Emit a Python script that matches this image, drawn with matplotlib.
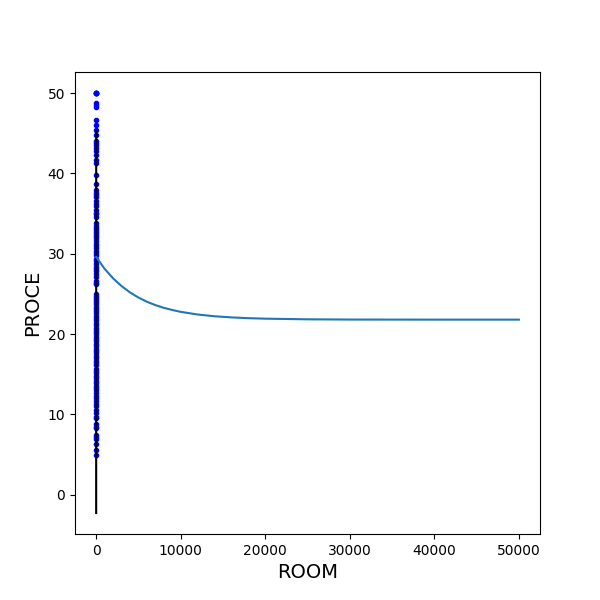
import matplotlib
matplotlib.use('Agg')
import matplotlib.pyplot as plt

# house prices vs average number of rooms
prices = [50.0, 50.0, 50.0, 50.0, 50.0, 48.8, 48.5, 48.3, 46.7, 46.0,
          45.4, 44.8, 44.0, 43.8, 43.5, 43.1, 42.8, 42.3, 41.7, 41.3,
          39.8, 38.7, 37.9, 37.6, 37.3, 37.0, 36.5, 36.2, 36.0, 35.4,
          35.1, 34.9, 34.6, 33.8, 33.4, 33.2, 33.0, 32.7, 32.5, 32.2,
          32.0, 31.6, 31.2, 31.0, 30.7, 30.3, 30.1, 29.8, 29.4, 29.1,
          28.7, 28.4, 28.1, 27.9, 27.5, 27.1, 26.6, 26.4, 26.2, 25.0,
          24.8, 24.5, 24.2, 24.0, 23.7, 23.4, 23.1, 22.9, 22.6, 22.3,
          22.0, 21.7, 21.4, 21.1, 20.8, 20.5, 20.2, 20.0, 19.7, 19.4,
          19.1, 18.8, 18.5, 18.2, 17.9, 17.6, 17.3, 17.0, 16.7, 16.4,
          16.1, 15.7, 15.4, 15.1, 14.8, 14.5, 14.2, 13.9, 13.6, 13.3,
          13.0, 12.7, 12.3, 12.0, 11.7, 11.3, 11.0, 10.5, 10.2, 9.7,
          9.5, 8.8, 8.5, 8.3, 7.5, 7.2, 7.0, 6.3, 5.6, 5.0]
rooms = [8.725, 7.929, 6.683, 5.875, 7.016, 8.398, 8.247, 8.704, 8.375, 7.831,
         8.069, 7.820, 7.765, 7.147, 7.520, 7.645, 7.470, 7.185, 7.287, 7.361,
         7.333, 7.610, 7.853, 7.686, 7.178, 7.163, 7.420, 6.968, 7.079, 7.236,
         6.998, 6.939, 6.758, 6.826, 7.107, 6.849, 6.728, 6.595, 6.625, 7.014,
         6.982, 6.674, 6.563, 6.487, 6.421, 6.762, 6.575, 6.454, 6.727, 6.229,
         6.781, 6.405, 6.417, 6.122, 3.561, 6.472, 6.631, 6.140, 6.312, 6.096,
         6.575, 6.302, 6.065, 6.012, 6.162, 6.009, 5.966, 6.129, 6.229, 5.965,
         8.780, 5.856, 6.004, 6.096, 5.961, 6.169, 5.813, 5.727, 5.952, 6.101,
         5.888, 5.950, 5.813, 6.016, 5.783, 5.927, 5.786, 5.599, 5.536, 6.286,
         5.712, 5.741, 5.569, 5.701, 5.390, 5.896, 6.006, 5.344, 5.887, 5.851,
         6.174, 5.818, 6.251, 5.880, 5.627, 4.970, 6.140, 5.304, 5.412, 6.417,
         4.880, 5.390, 5.349, 4.906, 6.421, 5.837, 5.000, 5.277, 4.138, 5.453]

# linear fit over the rooms range
fit_x = [3.561, 8.780]
fit_y = [-2.26, 45.25]

# decaying curve
curve_x = [0, 1000, 2000, 3000, 4000, 5000, 6000, 7000, 8000, 9000, 10000,
           12000, 14000, 16000, 18000, 20000, 25000, 30000, 40000, 50000]
curve_y = [29.60, 28.13, 26.94, 25.98, 25.19, 24.55, 24.03, 23.61, 23.27, 23.00, 22.77,
           22.44, 22.22, 22.08, 21.98, 21.92, 21.84, 21.81, 21.80, 21.80]

plt.figure(figsize=(6, 6), dpi=100)
plt.plot(rooms, prices, 'b.')
plt.plot(fit_x, fit_y, 'k-')
plt.plot(curve_x, curve_y)
plt.xlabel('ROOM', fontsize=14)
plt.ylabel('PROCE', fontsize=14)
plt.savefig('out.png')
